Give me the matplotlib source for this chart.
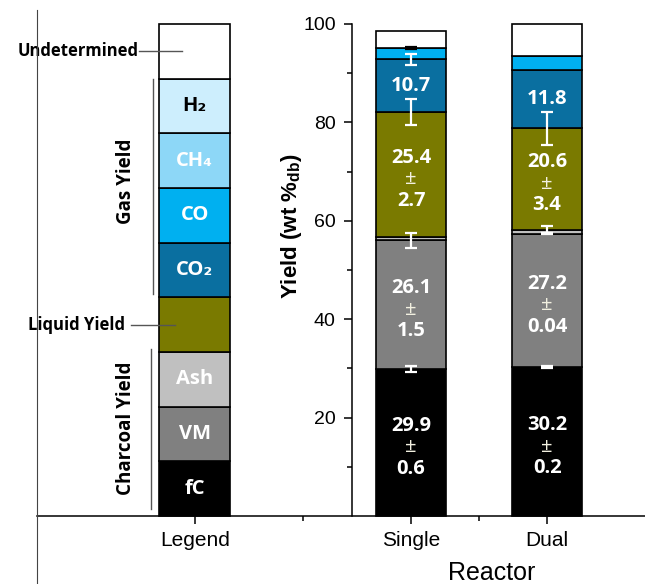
import matplotlib.pyplot as plt
from matplotlib.lines import Line2D

# ---- data ----
components = ['fC', 'VM', 'Ash', 'Liquid', 'CO2', 'CO', 'CH4', 'H2', 'Undetermined']
colors = ['#000000', '#808080', '#c0c0c0', '#7a7a00', '#0a6fa0', '#00b0f0',
          '#8dd7f7', '#cdeefd', '#ffffff']
reactors = ['Single', 'Dual']
single = [29.9, 26.1, 0.7, 25.4, 10.7, 2.4, 0.0, 0.0, 3.3]
dual = [30.2, 27.2, 0.8, 20.6, 11.8, 2.8, 0.0, 0.0, 6.6]
single_err = [0.6, 1.5, 0.0, 2.7, 1.1, 0.2, 0.0, 0.0, 0.0]
dual_err = [0.2, 0.04, 0.7, 3.4, 0.0, 0.0, 0.0, 0.0, 0.0]
# which segments get a value label, and whether it shows the +- part
label_seg = {'fC': True, 'VM': True, 'Liquid': True, 'CO2': False}

legend_labels = ['fC', 'VM', 'Ash', '', 'CO₂', 'CO', 'CH₄', 'H₂', '']
legend_text_colors = ['white', 'white', 'white', 'white', 'white', 'white',
                      'white', 'black', 'black']

# ---- layout ----
x_legend, x_single, x_dual = -0.59, 1.0, 2.0
bar_w = 0.52
bold_font = ['Open Sans', 'DejaVu Sans']
plt.rcParams['font.family'] = ['Liberation Sans', 'DejaVu Sans']
plt.rcParams['mathtext.fontset'] = 'custom'
plt.rcParams['mathtext.bf'] = 'Liberation Sans:bold'

fig = plt.figure(figsize=(6.45, 5.84), dpi=100)
ax = fig.add_axes([37 / 645, 68 / 584, 608 / 645, 492 / 584])
ax.set_xlim(-1.75, 2.72)
ax.set_ylim(0, 100)

# stacked bars for the two reactors
for xpos, vals, errs in [(x_single, single, single_err), (x_dual, dual, dual_err)]:
    bottom = 0
    for comp, v, e, c in zip(components, vals, errs, colors):
        if v > 0:
            ax.bar(xpos, v, bottom=bottom, width=bar_w, color=c,
                   edgecolor='black', linewidth=1.2, clip_on=False, zorder=2)
        top = bottom + v
        if e > 0:
            ecol = 'black' if comp == 'CO' else 'white'
            ax.errorbar(xpos, top, yerr=e, fmt='none', ecolor=ecol,
                        elinewidth=1.6, capsize=4.3, capthick=1.6, zorder=4)
        if comp in label_seg:
            mid = bottom + v / 2
            if label_seg[comp]:
                ax.annotate(f'{v:g}', (xpos, mid), xytext=(0, 12),
                            textcoords='offset points', ha='center', va='center',
                            color='white', fontsize=14.5, fontweight='bold',
                            family=bold_font, zorder=5)
                ax.annotate('±', (xpos, mid), xytext=(0, -3.5),
                            textcoords='offset points', ha='center', va='center',
                            color='#f2f0e0', fontsize=14.5, family=bold_font, zorder=5)
                ax.annotate(f'{e:g}', (xpos, mid), xytext=(0, -19),
                            textcoords='offset points', ha='center', va='center',
                            color='white', fontsize=14.5, fontweight='bold',
                            family=bold_font, zorder=5)
            else:
                ax.text(xpos, mid, f'{v:g}', ha='center', va='center',
                        color='white', fontsize=14.5, fontweight='bold',
                        family=bold_font, zorder=5)
        bottom = top

# legend bar: equal blocks
seg = 100 / len(components)
for i, (c, lab, tc) in enumerate(zip(colors, legend_labels, legend_text_colors)):
    ax.bar(x_legend, seg, bottom=i * seg, width=bar_w, color=c,
           edgecolor='black', linewidth=1.2, clip_on=False, zorder=2)
    if lab:
        ax.text(x_legend, i * seg + seg / 2, lab, ha='center', va='center',
                color=tc, fontsize=14.5, fontweight='bold', family=bold_font)

# legend annotations
und_y = 8.5 * seg
liq_y = 3.5 * seg
ax.plot([-1.0, -0.685], [und_y, und_y], color='#555555', lw=1)
ax.text(-1.0, und_y, 'Undetermined', ha='right', va='center', fontsize=12,
        fontweight='bold', family=bold_font)
ax.plot([-1.06, -0.735], [liq_y, liq_y], color='#555555', lw=1)
ax.text(-1.1, liq_y, 'Liquid Yield', ha='right', va='center', fontsize=12,
        fontweight='bold', family=bold_font)
ax.plot([-0.897, -0.897], [4 * seg + 0.6, 8 * seg], color='#555555', lw=1)
ax.text(-1.096, 68, 'Gas Yield', rotation=90, ha='center', va='center',
        fontsize=13.5, fontweight='bold', family=bold_font)
ax.plot([-0.91, -0.91], [1.4, 3 * seg + 0.7], color='#555555', lw=1)
ax.text(-1.096, 17.9, 'Charcoal Yield', rotation=90, ha='center', va='center',
        fontsize=13.5, fontweight='bold', family=bold_font)

# axes styling
for s in ['top', 'right']:
    ax.spines[s].set_visible(False)
ax.spines['left'].set_position(('data', 0.566))
ax.spines['left'].set_linewidth(1.1)
ax.spines['bottom'].set_linewidth(1.1)
ax.set_xticks([x_legend, x_single, x_dual], ['Legend'] + reactors, fontsize=15)
ax.set_xticks([(x_legend + x_single) / 2, (x_single + x_dual) / 2], minor=True)
ax.set_yticks([20, 40, 60, 80, 100])
ax.set_yticks([10, 30, 50, 70, 90], minor=True)
ax.tick_params(axis='both', which='major', direction='out', length=5.8, width=1.1)
ax.tick_params(axis='both', which='minor', direction='out', length=3.6, width=1.1)
ax.tick_params(axis='y', labelsize=14, pad=6)
ax.tick_params(axis='x', pad=5)

fig.text(492 / 645, 1 - 573 / 584, 'Reactor', ha='center', va='center', fontsize=18)
fig.text(291 / 645, 1 - 226 / 584, r'Yield (wt %$\mathbf{_{db}}$)', rotation=90,
         ha='center', va='center', fontsize=16, fontweight='bold')

fig.add_artist(Line2D([37 / 645, 37 / 645], [0, 0.983], color='#444444', lw=0.8))

fig.savefig('out.png', dpi=100)
